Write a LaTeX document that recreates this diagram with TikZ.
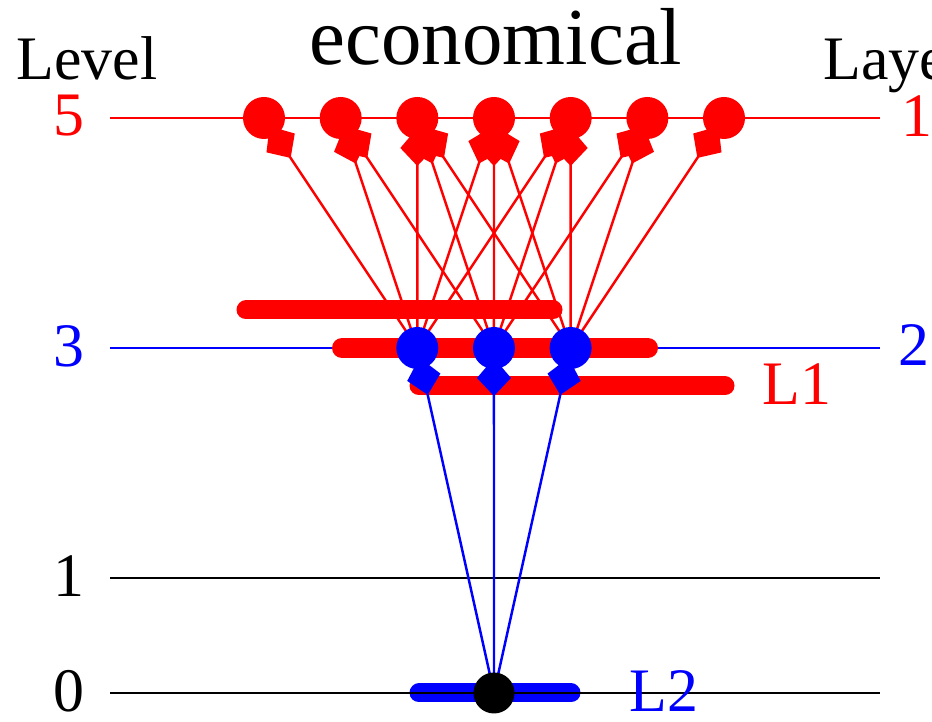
\documentclass[tikz,border=0pt]{standalone}
\usepackage{fontspec}
\setmainfont{Liberation Serif}
\usepackage{tikz}
\usetikzlibrary{arrows.meta,positioning,calc}
\usepackage{xcolor}
\definecolor{levelred}{RGB}{255,0,0}
\definecolor{levelblue}{RGB}{0,0,255}
\pgfdeclarelayer{background}
\pgfsetlayers{background,main}
\tikzset{
  every node/.style={font=\fontsize{17.6}{20}\selectfont, inner sep=0pt},
  dotnode/.style={circle, inner sep=0pt, minimum size=0.42cm},
  levelline/.style={line width=0.6pt},
  barline/.style={line width=0.19cm, line cap=round},
  kitearrow/.style={line width=0.7pt, arrows={Kite[length=0.38cm,width=0.34cm,inset=0.18cm]-}, shorten <=0.10cm},
}

\begin{document}
\begin{tikzpicture}
  \useasboundingbox (0,0) rectangle (9.32,7.22);
  % states on the three levels
  \foreach \i in {1,...,7}
    \node[dotnode, fill=levelred] (t\i) at ({2.64+(\i-1)*0.7667},6.04) {};
  \foreach \j in {1,2,3}
    \node[dotnode, fill=levelblue] (m\j) at ({4.173+(\j-1)*0.7667},3.74) {};
  \node[dotnode, fill=black, minimum size=0.41cm] (g) at (4.94,0.29) {};

  \node[anchor=base west] (lvl) at (0.16,6.42) {Level};
  \node[anchor=base, font=\fontsize{23}{26}\selectfont] (title) at (4.96,6.57) {economical};
  \node[anchor=base west] (lay) at (8.23,6.42) {Layer};
  \node[text=levelred] (n5) at (0.69,6.06) {5};
  \node[text=levelblue] (n3) at (0.69,3.76) {3};
  \node (n1) at (0.69,1.46) {1};
  \node (n0) at (0.69,0.31) {0};
  \node[text=levelred] (r1) at (9.17,6.06) {1};
  \node[text=levelblue] (r2) at (9.14,3.77) {2};
  \node[text=levelred] (lone) at (7.97,3.38) {L1};
  \node[text=levelblue] (ltwo) at (6.64,0.31) {L2};

  \begin{pgfonlayer}{background}
    \draw[levelline, levelred] (1.10,6.04) -- (8.80,6.04);
    \draw[levelline, levelblue] (1.10,3.74) -- (8.80,3.74);
    \draw[barline, levelred] (2.46,4.12) -- (5.53,4.12);
    \draw[barline, levelred, line width=0.2cm] (3.42,3.74) -- (6.48,3.74);
    \draw[barline, levelred] (4.19,3.36) -- (7.25,3.36);
    \draw[barline, levelblue] (4.19,0.29) -- (5.71,0.29);
    \draw[levelline] (1.10,1.44) -- (8.80,1.44);
    \draw[levelline] (1.10,0.29) -- (8.80,0.29);
    % transitions
    \foreach \i in {1,...,7}
      \foreach \j in {1,2,3} {
        \pgfmathtruncatemacro\d{abs(\i-\j-2)}
        \ifnum\d<3 \draw[kitearrow, levelred] (t\i.center) -- (m\j.center);\fi
      }
    \foreach \j in {1,2,3}
      \draw[kitearrow, levelblue] (m\j.center) -- (g.center);
  \end{pgfonlayer}
\end{tikzpicture}
\end{document}
